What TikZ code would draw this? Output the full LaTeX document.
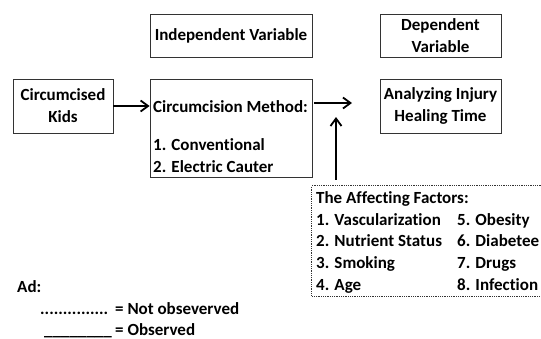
\documentclass[tikz,border=0pt]{standalone}
\usepackage{fontspec}
\setmainfont{Carlito}[Ligatures=CommonOff]
\usetikzlibrary{arrows.meta}
\begin{document}
\begin{tikzpicture}[x=1pt,y=-1pt,
  every node/.style={font=\fontsize{17}{22}\selectfont\bfseries, text=black},
  box/.style={draw=black!80, line width=0.8pt, inner sep=0pt, align=center},
  txt/.style={inner sep=0pt, anchor=base west},
  arr/.style={line width=1.8pt, -{Straight Barb[length=7.5pt,width=11pt,line width=1.8pt]}}]
\useasboundingbox (0,0) rectangle (541,338);
% boxes
\node[box, minimum width=162pt, minimum height=43pt] (iv) at (231,35.5) {Independent Variable};
\node[box, minimum width=121pt, minimum height=43pt] (dv) at (440.5,35.5) {Dependent\\Variable};
\node[box, minimum width=100pt, minimum height=54pt] (kids) at (63,106) {Circumcised\\Kids};
\node[box, minimum width=162pt, minimum height=98pt] (method) at (231,128) {};
\node[box, minimum width=121pt, minimum height=54pt] (heal) at (440.5,106) {Analyzing Injury\\Healing Time};
% method texts
\node[txt] (m0) at (153,112) {Circumcision Method:};
\node[txt] (m1) at (153,150.5) {1. Conventional};
\node[txt] (m2) at (153,172) {2. Electric Cauter};
% affecting factors box (open on the right)
\node[minimum width=229pt, minimum height=110pt, inner sep=0pt] (factors) at (426.5,241) {};
\draw[black!80, line width=0.8pt, densely dotted]
  (factors.north east) -- (factors.north west) -- (factors.south west) -- (factors.south east);
\node[txt] (f0) at (316,203) {The Affecting Factors:};
\node[txt] (f1) at (316,225) {1. Vascularization};
\node[txt] (f2) at (316,246.8) {2. Nutrient Status};
\node[txt] (f3) at (316,268.7) {3. Smoking};
\node[txt] (f4) at (316,290.6) {4. Age};
\node[txt] (f5) at (457,225) {5. Obesity};
\node[txt] (f6) at (457,246.8) {6. Diabetee};
\node[txt] (f7) at (457,268.7) {7. Drugs};
\node[txt] (f8) at (457,290.6) {8. Infection};
% connectors
\coordinate (p1) at (352,103);
\coordinate (p2) at (336,117);
\draw[arr] (kids.east) -- (kids.east -| method.west);
\draw[arr] ([xshift=2pt]method.east |- p1) -- (p1);
\draw[arr] ([yshift=6pt]factors.north -| p2) -- (p2);
% legend
\node[txt] (ad) at (17,292) {Ad:};
\node[txt] (ldots) at (40,314) {...............};
\node[txt] (lnot) at (115,314) {= Not obseverved};
\node[txt] (lline) at (44,335) {\_\_\_\_\_\_\_\_};
\node[txt] (lobs) at (115,335) {= Observed};
\end{tikzpicture}
\end{document}
